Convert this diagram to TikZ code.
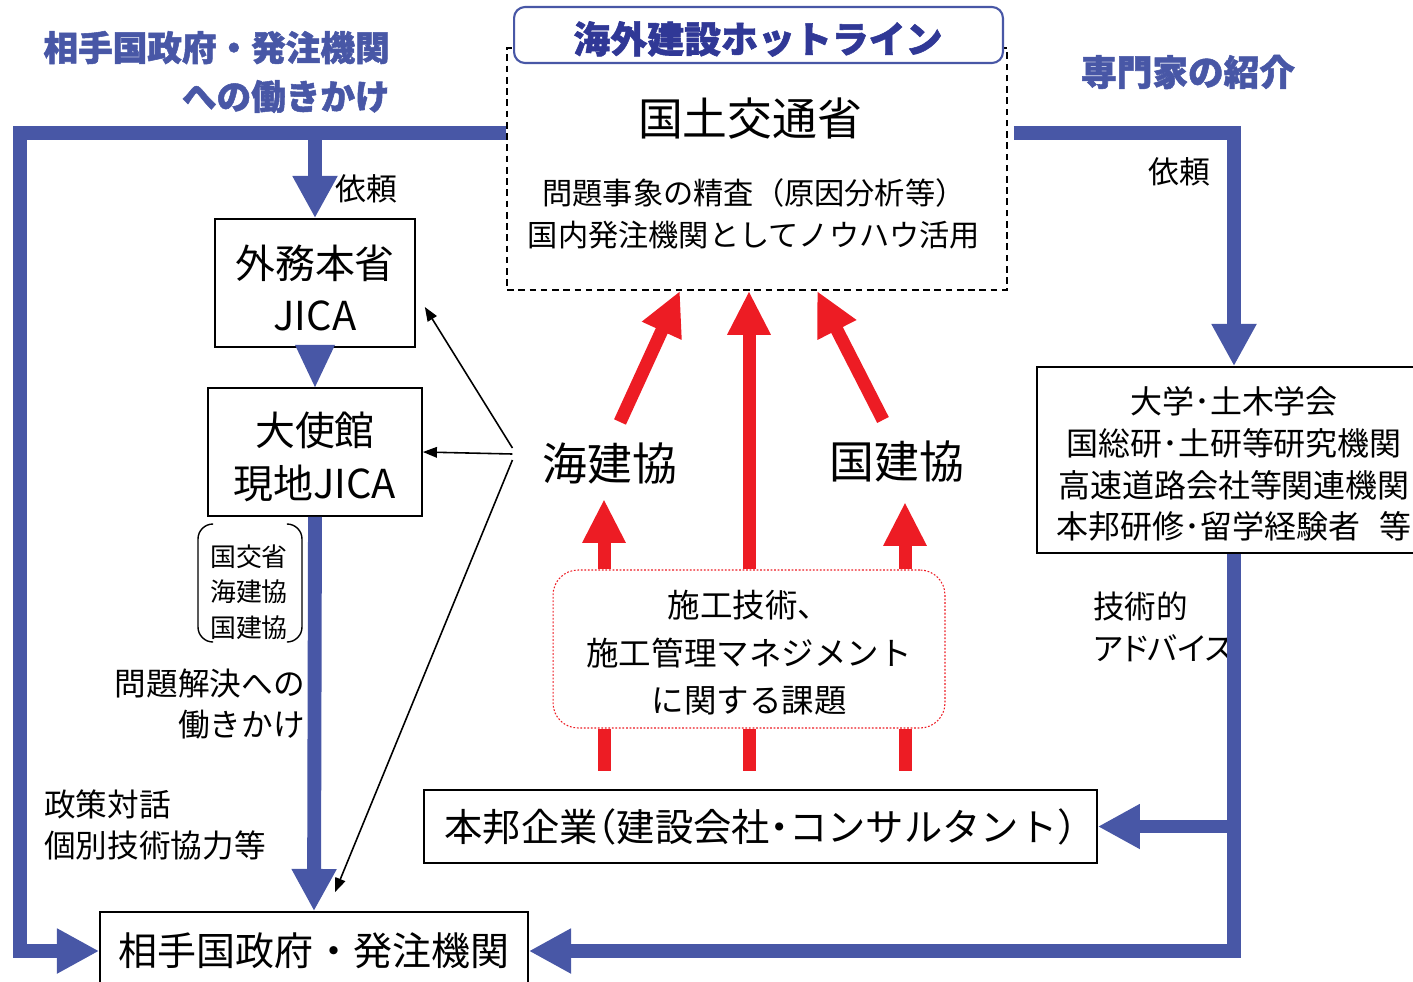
\documentclass[tikz,border=0pt]{standalone}
\usepackage{fontspec}
\setmainfont{Noto Sans CJK JP}
\newfontfamily\popfont[BoldFeatures={FakeBold=1.5}]{Noto Sans CJK JP}
\usepackage{xcolor}
\usetikzlibrary{arrows.meta,positioning,calc}

\definecolor{lineblue}{RGB}{72,87,166}
\definecolor{titleblue}{RGB}{48,56,150}
\definecolor{arrowred}{RGB}{237,28,36}

\newcommand{\fsz}[2]{\fontsize{#1}{#2}\selectfont}

\begin{document}
\begin{tikzpicture}[x=0.02cm, y=-0.02cm,
    panel/.style={draw, line width=1pt, inner sep=0pt, align=center},
    txt/.style={inner sep=0pt, align=center},
    bluearrow/.style={lineblue, line width=7.9pt, -{Triangle[length=24pt,width=24pt]}},
    redarrow/.style={arrowred, line width=7.4pt, -{Triangle[length=25pt,width=23pt]}},
    thinarrow/.style={line width=0.9pt, -{Triangle[length=8pt,width=6pt]}}]

    \useasboundingbox (0,0) rectangle (1413,981);

    % titles
    \node[txt, align=right, anchor=east, text=lineblue, font={\popfont\fsz{19.7}{27.8}\bfseries}] (title1) at (390,72) {相手国政府・発注機関\\への働きかけ};
    \node[txt, text=lineblue, font={\popfont\fsz{20.3}{24}\bfseries}] (title2) at (1188,72) {専門家の紹介};

    % MLIT hotline
    \node[panel, dash pattern=on 3.8pt off 2.6pt, minimum width=10cm, minimum height=4.84cm] (mlit) at (757,169) {};
    \node[panel, draw=lineblue, line width=1.2pt, rounded corners=0.22cm, fill=white,
          minimum width=9.78cm, minimum height=1.12cm] (hotline) at (758.5,35) {};
    \node[txt, text=titleblue, font={\popfont\fsz{21}{25}\bfseries}] (hotline-t) at (758,39) {海外建設ホットライン};
    \node[txt, font=\fsz{25.5}{30}] (mlittitle) at (750,119) {国土交通省};
    \node[txt, font=\fsz{17.2}{23.8}] (mlittask) at (754,214) {問題事象の精査（原因分析等）\\国内発注機関としてノウハウ活用};

    % left column
    \node[panel, minimum width=4cm, minimum height=2.56cm] (gaimu) at (315,283) {};
    \node[txt, font=\fsz{22.7}{30}] (gaimu-t) at (315,288) {外務本省\\JICA};
    \node[panel, minimum width=4.28cm, minimum height=2.56cm] (taishi) at (315,452) {};
    \node[txt, font=\fsz{22.7}{30}] (taishi-t) at (315,457) {大使館\\現地JICA};
    \node[panel, font=\fsz{22.2}{26}, minimum width=8.56cm, minimum height=1.56cm] (aite) at (314,951) {相手国政府・発注機関};
    \node[txt, font=\fsz{17.6}{20}] (irai1) at (366,189) {依頼};
    \node[txt, font=\fsz{14.7}{20.1}] (kokko) at (249,592) {国交省\\海建協\\国建協};
    \draw[line width=0.8pt, rounded corners=0.3cm] (kokko.center) ++(-37,-68) -- ++(-14,0) -- ++(0,118) -- ++(14,0);
    \draw[line width=0.8pt, rounded corners=0.3cm] (kokko.center) ++(39,-68) -- ++(14,0) -- ++(0,118) -- ++(-14,0);
    \node[txt, align=right, anchor=east, font=\fsz{18}{23.2}] (kaiketsu) at (305,704) {問題解決への\\働きかけ};
    \node[txt, align=left, anchor=west, font=\fsz{18}{23.8}] (seisaku) at (44,825) {政策対話\\個別技術協力等};

    % right column
    \node[panel, minimum width=7.88cm, minimum height=3.72cm] (senmon) at (1234,460) {};
    \node[txt, font=\fsz{18.2}{23.8}] (senmon-t) at (1234,464)
        {大学･土木学会\\国総研･土研等研究機関\\高速道路会社等関連機関\\本邦研修･留学経験者\hspace{0.6em}等};
    \node[txt, font=\fsz{17.6}{20}] (irai2) at (1179,172) {依頼};
    \node[txt, align=left, anchor=west, font={\fsz{18}{23.8}\addfontfeatures{RawFeature=+palt}}] (gijutsu) at (1093,627) {技術的\\アドバイス};

    % centre
    \node[txt, font=\fsz{25.5}{30}] (kaiken) at (610,463) {海建協};
    \node[txt, font=\fsz{25.5}{30}] (kokken) at (897,461) {国建協};
    \node[panel, draw=arrowred, densely dotted, line width=0.6pt, rounded corners=0.5cm,
          minimum width=7.84cm, minimum height=3.16cm] (kadai) at (749,649) {};
    \node[txt, font=\fsz{18.5}{27}] (kadai-t) at (749,653) {施工技術、\\施工管理マネジメント\\に関する課題};
    \node[panel, font={\fsz{21.8}{26}\addfontfeatures{RawFeature=+halt}}, minimum width=13.46cm, minimum height=1.46cm] (kigyo) at (760.5,826.5) {本邦企業（建設会社・コンサルタント）};

    % blue flows
    \coordinate (ltop) at (20,133);
    \coordinate (rtop) at (1234,133);
    \draw[bluearrow] (mlit.west |- ltop) -- (ltop) |- (aite.west);
    \draw[bluearrow] (gaimu.north |- ltop) -- (gaimu.north);
    \fill[lineblue] ($(gaimu.south)+(-20,-3)$) -- ($(gaimu.south)+(20,-3)$) -- (taishi.north) -- cycle;
    \draw[bluearrow] (taishi.south) -- (aite.north);
    \draw[bluearrow] ($(mlit.east |- rtop)+(6,0)$) -- (rtop) -- (rtop |- senmon.north);
    \draw[bluearrow] (rtop |- senmon.south) |- (aite.east);
    \draw[bluearrow] (rtop |- kigyo.east) -- (kigyo.east);

    % red flows
    \draw[redarrow] (kadai.north) -- (kadai.north |- mlit.south);
    \draw[redarrow] ($(kaiken.north)+(10,-20)$) -- ($(mlit.south)+(-77,0)$);
    \draw[redarrow] ($(kokken.north)+(-14,-20)$) -- ($(mlit.south)+(60,0)$);
    \draw[redarrow] ($(kadai.north)+(-145,0)$) -- ($(kaiken.south)+(-6,15)$);
    \draw[redarrow] ($(kadai.north)+(156,0)$) -- ($(kokken.south)+(8,20)$);
    \foreach \dx in {-145,0,156}
        \draw[arrowred, line width=7.4pt] ($(kadai.south)+(\dx,0)$) -- ($(kadai.south)+(\dx,42)$);

    % thin arrows
    \draw[thinarrow] ($(kaiken.west)+(-30,-15)$) -- ($(gaimu.east)+(9,24)$);
    \draw[thinarrow] ($(kaiken.west)+(-30,-9)$) -- (taishi.east);
    \draw[thinarrow] ($(kaiken.west)+(-30,-3)$) -- ($(aite.north)+(21,-19)$);
\end{tikzpicture}
\end{document}
